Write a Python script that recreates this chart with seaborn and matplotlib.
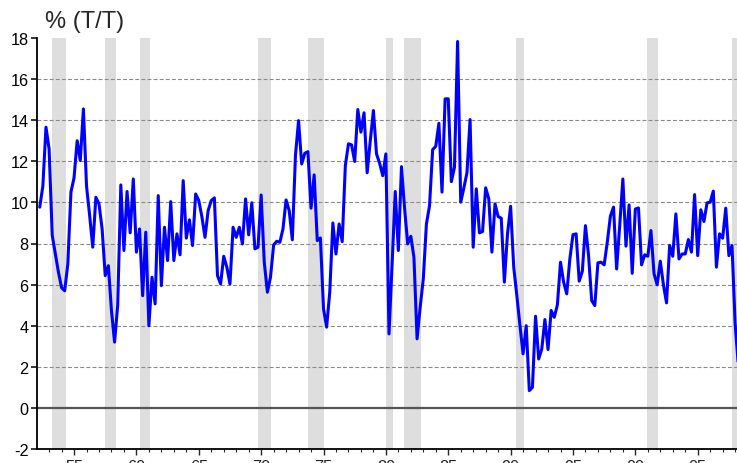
#%% Imports
import numpy as np
import pandas as pd
import matplotlib
matplotlib.use("Agg")
import matplotlib.pyplot as plt
import seaborn as sns
from matplotlib.ticker import MultipleLocator, FixedLocator

#%% Data
# quarterly growth, % (T/T), starting 1952Q2
start_quarter = "1952Q2"
growth = [
    9.77, 10.8, 13.66, 12.6, 8.4, 7.5, 6.6, 5.85, 5.7, 7.0,
    10.5, 11.2, 13.0, 12.04, 14.55, 10.8, 9.36, 7.82, 10.25, 9.93,
    8.71, 6.44, 6.92, 4.74, 3.2, 5.0, 10.85, 7.66, 10.53, 8.52,
    11.14, 7.58, 8.71, 5.46, 8.55, 4.0, 6.36, 5.06, 10.33, 5.95,
    8.79, 7.17, 10.04, 7.17, 8.47, 7.45, 11.06, 8.26, 9.15, 7.9,
    10.41, 10.09, 9.3, 8.3, 9.6, 10.09, 10.22, 6.44, 6.03, 7.38,
    6.85, 6.03, 8.79, 8.3, 8.79, 7.98, 10.17, 8.42, 9.98, 7.74,
    7.82, 10.36, 7.09, 5.63, 6.36, 7.93, 8.11, 8.06, 8.71, 10.12,
    9.6, 8.18, 12.28, 13.98, 11.87, 12.39, 12.47, 9.72, 11.34, 8.14,
    8.27, 4.82, 3.93, 5.63, 9.0, 7.49, 8.95, 8.09, 11.79, 12.85,
    12.8, 11.99, 14.52, 13.42, 14.36, 11.44, 13.0, 14.47, 12.36, 11.9,
    11.3, 12.36, 3.6, 7.0, 10.53, 7.66, 11.74, 9.7, 7.98, 8.35,
    7.33, 3.36, 4.9, 6.28, 8.95, 9.84, 12.57, 12.73, 13.85, 10.5,
    15.04, 15.04, 11.01, 11.71, 17.83, 10.01, 10.7, 11.44, 14.03, 7.82,
    10.66, 8.52, 8.58, 10.71, 10.17, 7.58, 9.93, 9.31, 9.23, 6.12,
    8.47, 9.81, 6.85, 5.46, 4.0, 2.63, 4.0, 0.84, 1.0, 4.46,
    2.38, 2.87, 4.3, 2.84, 4.74, 4.41, 5.01, 7.09, 6.12, 5.55,
    7.25, 8.43, 8.47, 6.17, 6.65, 8.87, 7.41, 5.22, 4.98, 7.06,
    7.09, 6.96, 8.06, 9.33, 9.77, 6.76, 8.9, 11.14, 7.87, 9.88,
    6.55, 9.68, 9.73, 6.96, 7.45, 7.38, 8.63, 6.52, 5.99, 7.14,
    6.0, 5.11, 7.9, 7.38, 9.44, 7.25, 7.49, 7.49, 8.19, 7.58,
    10.38, 7.41, 9.64, 9.07, 9.98, 10.01, 10.55, 6.85, 8.47, 8.26,
    9.72, 7.41, 7.9, 4.1, 2.1,
]

# recession periods (decimal years)
rec_start = [1953.26, 1957.51, 1960.27, 1969.75, 1973.76, 1979.99, 1981.45, 1990.46, 2000.96, 2007.75]
rec_end = [1954.33, 1958.34, 1961.09, 1970.82, 1975.04, 1980.55, 1982.82, 1991.08, 2001.82, 2009.5]

year_ticks = [1955, 1960, 1965, 1970, 1975, 1980, 1985, 1990, 1995, 2000, 2005]
year_labels = ["55", "60", "65", "70", "75", "80", "85", "90", "95", "00", "05"]
y_ticks = [-2, 0, 2, 4, 6, 8, 10, 12, 14, 16, 18]

periods = pd.period_range(start_quarter, periods=len(growth), freq="Q")
df = pd.DataFrame({
    "year": periods.year + (periods.quarter - 1) / 4,
    "growth": growth,
})

#%% Plot
sns.set_style("white")
plt.rcParams["font.family"] = ["Liberation Sans", "DejaVu Sans"]
plt.rcParams["axes.unicode_minus"] = False

fig = plt.figure(figsize=(7.37, 4.64), dpi=100)
ax = fig.add_axes([37 / 737, 14 / 464, 700 / 737, 411 / 464])

# recession bands
for s, e in zip(rec_start, rec_end):
    ax.axvspan(s, e, color="#dedede", lw=0, zorder=0)

# grid lines (dashed), zero line solid
for t in y_ticks:
    if t == 0:
        ax.axhline(t, color="#555555", lw=1.6, zorder=1)
    elif -2 < t < 18:
        ax.axhline(t, color="#8a8a8a", lw=0.8, ls=(0, (3.5, 2)), zorder=1)

sns.lineplot(data=df, x="year", y="growth", color="#0000ff", linewidth=2.2, ax=ax, zorder=3)

ax.set_xlim(1952.03, 2008.15)
ax.set_ylim(-2, 18)
ax.set_xlabel("")
ax.set_ylabel("")

ax.xaxis.set_major_locator(FixedLocator(year_ticks))
ax.set_xticklabels(year_labels)
ax.xaxis.set_minor_locator(MultipleLocator(1))
ax.set_yticks(y_ticks)
ax.set_yticklabels([str(t) for t in y_ticks])

for side in ["top", "right"]:
    ax.spines[side].set_visible(False)
for side in ["left", "bottom"]:
    ax.spines[side].set_color("black")
    ax.spines[side].set_linewidth(1.3)

ax.tick_params(axis="y", which="major", direction="out", length=4, width=1.1, pad=2,
               labelsize=11.7, left=True, colors="black")
ax.tick_params(axis="x", which="major", direction="out", length=4.5, width=1.0, pad=2.5,
               labelsize=11.7, bottom=True)
ax.tick_params(axis="x", which="minor", direction="out", length=2.5, width=0.8, bottom=True)

fig.text(45 / 737, 1 - 28 / 464, "% (T/T)", fontsize=17, va="baseline", ha="left")

fig.savefig("out.png", dpi=100)
